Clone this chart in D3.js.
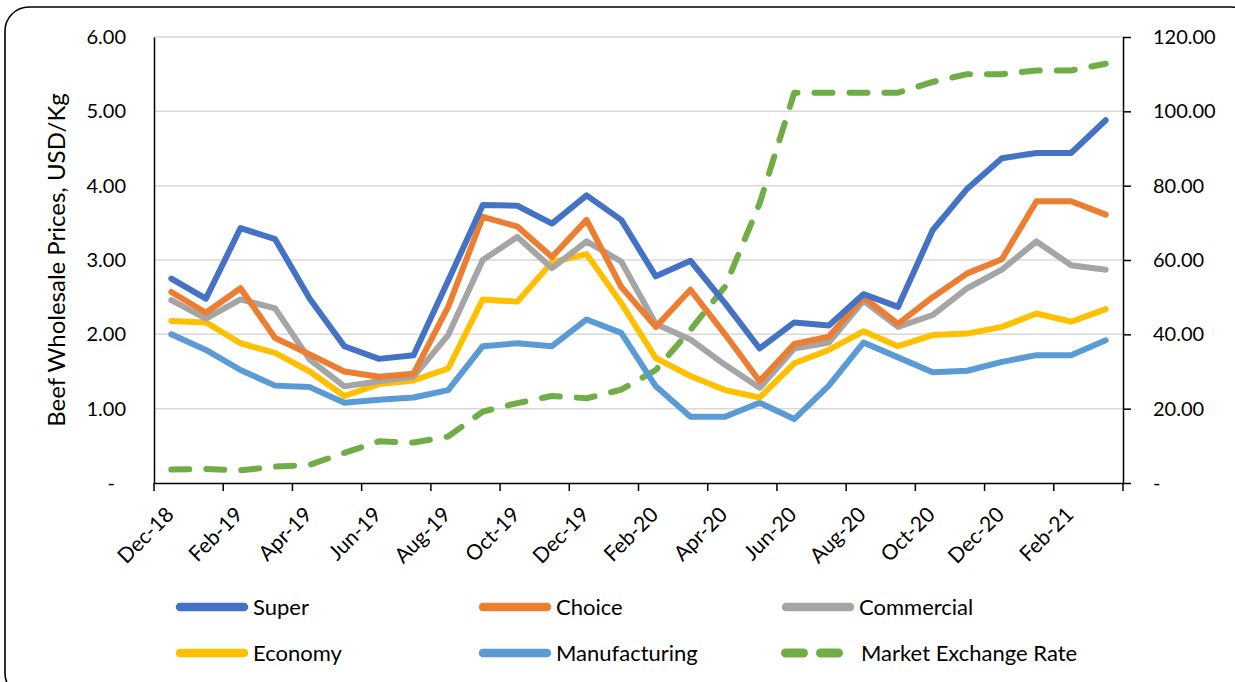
<!DOCTYPE html>
<html>
<head>
<meta charset="utf-8">
<script src="https://cdn.jsdelivr.net/npm/d3@7"></script>
<style>
  html, body { margin: 0; padding: 0; background: #fff; }
  svg { display: block; font-family: "Lato", "Open Sans", sans-serif; }
</style>
</head>
<body>
<svg id="chart" width="1235" height="682"></svg>
<script>
// Months on the category axis (Dec 2018 – Mar 2021)
const months = ["Dec-18","Jan-19","Feb-19","Mar-19","Apr-19","May-19","Jun-19","Jul-19","Aug-19","Sep-19","Oct-19","Nov-19",
  "Dec-19","Jan-20","Feb-20","Mar-20","Apr-20","May-20","Jun-20","Jul-20","Aug-20","Sep-20","Oct-20","Nov-20",
  "Dec-20","Jan-21","Feb-21","Mar-21"];

// Wholesale beef prices, USD/Kg
const superGrade    = [2.75,2.48,3.43,3.28,2.48,1.84,1.67,1.72,2.72,3.74,3.73,3.49,3.87,3.54,2.78,2.99,2.42,1.81,2.16,2.12,2.54,2.37,3.40,3.96,4.37,4.44,4.44,4.88];
const choice        = [2.57,2.29,2.62,1.95,1.73,1.50,1.43,1.47,2.37,3.58,3.45,3.04,3.54,2.64,2.10,2.60,2.00,1.37,1.87,1.97,2.50,2.14,2.50,2.82,3.01,3.79,3.79,3.61];
const commercial    = [2.46,2.21,2.47,2.35,1.66,1.30,1.37,1.43,1.99,3.00,3.31,2.89,3.25,2.98,2.14,1.93,1.59,1.28,1.81,1.89,2.45,2.10,2.26,2.62,2.87,3.25,2.93,2.87];
const economy       = [2.18,2.16,1.88,1.75,1.50,1.17,1.33,1.38,1.54,2.47,2.44,2.97,3.08,2.42,1.68,1.44,1.25,1.15,1.61,1.79,2.04,1.84,1.99,2.01,2.10,2.28,2.17,2.34];
const manufacturing = [2.00,1.79,1.52,1.31,1.29,1.08,1.12,1.15,1.25,1.84,1.88,1.84,2.20,2.02,1.30,0.89,0.89,1.08,0.86,1.31,1.89,1.69,1.49,1.51,1.63,1.72,1.72,1.92];
// Market exchange rate (right axis)
const exchangeRate  = [3.6,3.8,3.4,4.4,4.9,8.1,11.2,10.9,12.5,19.2,21.5,23.4,22.8,25.1,30.4,41.2,52.8,75.2,105.0,105.0,105.0,105.0,107.9,110.0,110.0,111.0,111.0,112.8];

// Axis tick values
const leftTicks  = [0,1,2,3,4,5,6];
const rightTicks = [0,20,40,60,80,100,120];
const labelMonths = months.filter((m, i) => i % 2 === 0);

const seriesNames  = ["Super","Choice","Commercial","Economy","Manufacturing","Market Exchange Rate"];
const seriesColors = ["#4472C4","#ED7D31","#A5A5A5","#FFC000","#5B9BD5","#70AD47"];

const svg = d3.select("#chart");
const plot = { left: 154, right: 1123, top: 37, bottom: 483 };

// Outer rounded frame
svg.append("rect")
  .attr("x", 5).attr("y", 7).attr("width", 1250).attr("height", 690)
  .attr("rx", 24).attr("ry", 24)
  .attr("fill", "#fff").attr("stroke", "#000").attr("stroke-width", 1.6);

const x = d3.scaleBand().domain(months).range([plot.left, plot.right]).paddingInner(0).paddingOuter(0);
const cx = m => x(m) + x.bandwidth() / 2;
const yL = d3.scaleLinear().domain([0, 6]).range([plot.bottom, plot.top]);
const yR = d3.scaleLinear().domain([0, 120]).range([plot.bottom, plot.top]);

// Horizontal gridlines
svg.append("g").selectAll("line").data(leftTicks.slice(1)).join("line")
  .attr("x1", plot.left).attr("x2", plot.right)
  .attr("y1", d => yL(d)).attr("y2", d => yL(d))
  .attr("stroke", "#d9d9d9").attr("stroke-width", 1.5);

// Left axis
const fmtL = d => d === 0 ? "-" : d.toFixed(2);
const gL = svg.append("g").attr("transform", `translate(${plot.left},0)`)
  .call(d3.axisLeft(yL).tickValues(leftTicks).tickSize(0).tickPadding(28).tickFormat(fmtL));
gL.select(".domain").attr("stroke", "#000").attr("stroke-width", 1.5);
gL.selectAll("text").attr("font-size", 20).attr("fill", "#000").attr("font-family", "Lato")
  .attr("dx", d => d === 0 ? -11 : 0);

// Right axis
const fmtR = d => d === 0 ? "-" : d.toFixed(2);
const gR = svg.append("g").attr("transform", `translate(${plot.right},0)`)
  .call(d3.axisRight(yR).tickValues(rightTicks).tickSize(8).tickSizeOuter(0).tickPadding(22).tickFormat(fmtR));
gR.select(".domain").attr("stroke", "#000").attr("stroke-width", 1.5);
gR.selectAll(".tick line").attr("stroke", "#000").attr("stroke-width", 1.5);
gR.selectAll("text").attr("font-size", 20).attr("fill", "#000").attr("font-family", "Lato");

// Bottom axis, ticks on month boundaries
const gB = svg.append("g").attr("transform", `translate(0,${plot.bottom})`)
  .call(d3.axisBottom(x).tickValues(labelMonths).tickSize(8).tickSizeOuter(0).tickPadding(6));
gB.selectAll(".tick").attr("transform", d => `translate(${x(d)},0)`);
gB.select(".domain").attr("stroke", "#000").attr("stroke-width", 1.5);
gB.selectAll(".tick line").attr("stroke", "#000").attr("stroke-width", 1.5);
gB.selectAll(".tick text")
  .attr("font-size", 21).attr("fill", "#000").attr("font-family", "Lato")
  .attr("text-anchor", "end").attr("dy", null).attr("y", 0)
  .attr("transform", "translate(21,33) rotate(-45)");
// Closing tick at the end of the axis
gB.append("line").attr("x1", plot.right).attr("x2", plot.right).attr("y1", 0).attr("y2", 8)
  .attr("stroke", "#000").attr("stroke-width", 1.5);

// Left axis title
svg.append("text")
  .attr("transform", `translate(65,${(plot.top + plot.bottom) / 2}) rotate(-90)`)
  .attr("text-anchor", "middle").attr("font-size", 24).attr("font-family", "Lato")
  .text("Beef Wholesale Prices, USD/Kg");

// Series lines
const priceSeries = [superGrade, choice, commercial, economy, manufacturing];
const lineL = d3.line().x((d, i) => cx(months[i])).y(d => yL(d));
const lineR = d3.line().x((d, i) => cx(months[i])).y(d => yR(d));

// Exchange rate drawn first so price lines sit over it
svg.append("path").datum(exchangeRate)
  .attr("d", lineR).attr("fill", "none").attr("stroke", seriesColors[5])
  .attr("stroke-width", 6).attr("stroke-linecap", "round").attr("stroke-linejoin", "round")
  .attr("stroke-dasharray", "18 17");

// Drawing order: manufacturing, economy, commercial, choice, super (super on top)
[4, 3, 2, 1, 0].forEach(k => {
  svg.append("path").datum(priceSeries[k])
    .attr("d", lineL).attr("fill", "none").attr("stroke", seriesColors[k])
    .attr("stroke-width", 6).attr("stroke-linecap", "round").attr("stroke-linejoin", "round");
});

// Legend (3 columns x 2 rows)
const legendCols = [176, 479, 782];
const legendRows = [607, 653];
const lg = svg.append("g");
seriesNames.forEach((name, i) => {
  const lx = legendCols[i % 3], ly = legendRows[Math.floor(i / 3)];
  const g = lg.append("g");
  if (i === 5) {
    g.append("line").attr("x1", lx + 3.5).attr("x2", lx + 56.5).attr("y1", ly).attr("y2", ly)
      .attr("stroke", seriesColors[i]).attr("stroke-width", 9).attr("stroke-linecap", "round")
      .attr("stroke-dasharray", "18 17");
    g.append("text").attr("x", lx + 79).attr("y", ly).attr("dy", "0.35em")
      .attr("font-size", 22).attr("font-family", "Lato").text(name);
  } else {
    g.append("line").attr("x1", lx + 4).attr("x2", lx + 68).attr("y1", ly).attr("y2", ly)
      .attr("stroke", seriesColors[i]).attr("stroke-width", 8.5).attr("stroke-linecap", "round");
    g.append("text").attr("x", lx + 77).attr("y", ly).attr("dy", "0.35em")
      .attr("font-size", 22).attr("font-family", "Lato").text(name);
  }
});
</script>
</body>
</html>
